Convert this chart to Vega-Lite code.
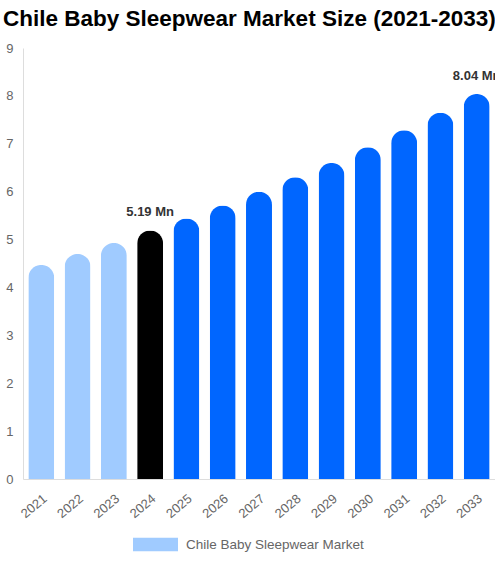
{
  "$schema": "https://vega.github.io/schema/vega-lite/v6.json",
  "autosize": {"type": "none"},
  "padding": {"left": 23, "top": 48, "right": 0, "bottom": 83},
  "width": 472,
  "height": 431,
  "background": "white",
  "config": {
    "font": "Arial, Liberation Sans",
    "view": {"stroke": null}
  },
  "title": {
    "text": "Chile Baby Sleepwear Market Size (2021-2033)",
    "anchor": "start",
    "frame": "group",
    "dx": -20,
    "offset": 12,
    "fontSize": 22.5,
    "fontWeight": "bold",
    "color": "black"
  },
  "data": {
    "values": [
      {"Year": "2021", "Value": 4.47, "Market": "Chile Baby Sleepwear Market", "Label": ""},
      {"Year": "2022", "Value": 4.70, "Market": "Chile Baby Sleepwear Market", "Label": ""},
      {"Year": "2023", "Value": 4.93, "Market": "Chile Baby Sleepwear Market", "Label": ""},
      {"Year": "2024", "Value": 5.19, "Market": "Chile Baby Sleepwear Market", "Label": "5.19 Mn"},
      {"Year": "2025", "Value": 5.44, "Market": "Chile Baby Sleepwear Market", "Label": ""},
      {"Year": "2026", "Value": 5.71, "Market": "Chile Baby Sleepwear Market", "Label": ""},
      {"Year": "2027", "Value": 6.00, "Market": "Chile Baby Sleepwear Market", "Label": ""},
      {"Year": "2028", "Value": 6.30, "Market": "Chile Baby Sleepwear Market", "Label": ""},
      {"Year": "2029", "Value": 6.60, "Market": "Chile Baby Sleepwear Market", "Label": ""},
      {"Year": "2030", "Value": 6.93, "Market": "Chile Baby Sleepwear Market", "Label": ""},
      {"Year": "2031", "Value": 7.28, "Market": "Chile Baby Sleepwear Market", "Label": ""},
      {"Year": "2032", "Value": 7.65, "Market": "Chile Baby Sleepwear Market", "Label": ""},
      {"Year": "2033", "Value": 8.04, "Market": "Chile Baby Sleepwear Market", "Label": "8.04 Mn"}
    ]
  },
  "encoding": {
    "x": {
      "field": "Year",
      "type": "ordinal",
      "title": null,
      "scale": {"paddingInner": 0.284, "paddingOuter": 0.146},
      "axis": {
        "labelAngle": -40,
        "labelAlign": "right",
        "labelBaseline": "top",
        "labelFontSize": 13,
        "labelColor": "#666666",
        "labelPadding": 13,
        "ticks": false,
        "domainColor": "#dddddd",
        "grid": false
      }
    },
    "y": {
      "field": "Value",
      "type": "quantitative",
      "title": null,
      "scale": {"domain": [0, 9]},
      "axis": {
        "values": [0, 1, 2, 3, 4, 5, 6, 7, 8, 9],
        "labelFontSize": 13,
        "labelColor": "#666666",
        "labelPadding": 10,
        "ticks": false,
        "domainColor": "#dddddd",
        "grid": false
      }
    }
  },
  "layer": [
    {
      "mark": {"type": "bar", "cornerRadiusTopLeft": 13, "cornerRadiusTopRight": 13},
      "encoding": {
        "color": {
          "condition": [
            {"test": "datum.Year == '2024'", "value": "#000000"},
            {"test": "toNumber(datum.Year) > 2024", "value": "#0066ff"}
          ],
          "field": "Market",
          "type": "nominal",
          "title": null,
          "scale": {"range": ["#a0cbff"]},
          "legend": {
            "orient": "none",
            "legendX": 110,
            "legendY": 474,
            "direction": "horizontal",
            "symbolType": "M-1,-0.3H1V0.3H-1Z",
            "symbolSize": 2025,
            "symbolStrokeWidth": 0,
            "symbolOffset": 0,
            "labelFontSize": 13.5,
            "labelColor": "#666666",
            "labelOffset": 8,
            "labelLimit": 0
          }
        }
      }
    },
    {
      "mark": {"type": "text", "dy": -18, "fontSize": 13, "fontWeight": "bold", "color": "#333333"},
      "encoding": {
        "text": {"field": "Label", "type": "nominal"}
      }
    }
  ]
}
